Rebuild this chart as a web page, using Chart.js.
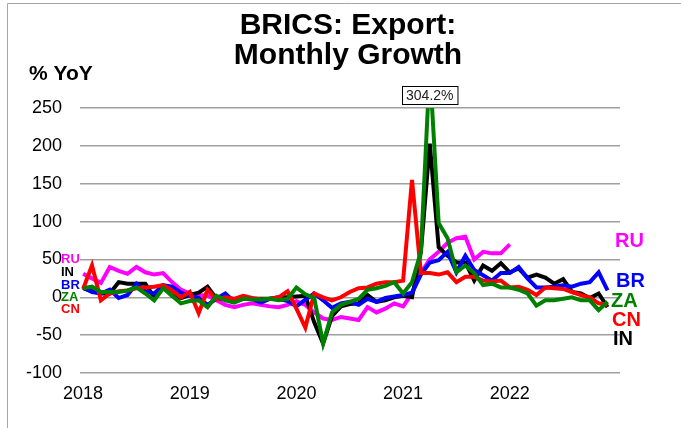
<!DOCTYPE html>
<html>
<head>
<meta charset="utf-8">
<script src="https://cdn.jsdelivr.net/npm/chart.js@4.4.1/dist/chart.umd.min.js"></script>
<style>
html,body{margin:0;padding:0;background:#fff;}
canvas{display:block;}
</style>
</head>
<body>
<canvas id="c" width="681" height="428"></canvas>
<script>
// ---- data (monthly, Jan 2018 .. Dec 2022) ----
const yearTicks = ['2018','2019','2020','2021','2022'];
const yTicks = [-100,-50,0,50,100,150,200,250];

const RU = [31,25,19,40,35,31,40,33,30,32,20,10,
            5,3,2,-4,-10,-13,-10,-8,-10,-12,-13,-10,
            -5,-10,-20,-28,-30,-26,-28,-30,-13,-20,-15,-8,
            -12,5,32,50,60,72,78,80,50,60,58,58,
            70,null,null,null,null,null,null,null,null,null,null,null];
const IN = [12,8,5,5,20,18,18,18,0,14,2,-1,
            3,6,14,-2,-2,-5,-1,-2,-2,-2,0,0,
            1,2,-33,-61,-25,-12,-9,-8,3,-6,-4,0,
            2,0,60,203,66,55,46,46,22,42,35,45,
            33,38,26,30,26,18,24,7,5,-1,5,-13];
const BR = [13,7,5,10,-1,3,18,8,5,16,14,6,
            2,-1,-10,-2,5,-6,-2,-2,-7,-2,-2,-5,
            -12,-3,5,-4,-14,-8,-6,-10,-2,-6,-1,1,
            3,6,30,46,49,60,33,55,36,29,22,32,
            32,40,25,13,13,14,16,14,18,20,33,9];
const ZA = [12,14,7,7,7,9,13,5,-4,12,2,-8,
            -5,-4,-13,2,-4,-7,-2,-3,-3,-2,-4,-2,
            13,4,-1,-61,-20,-10,-6,-2,10,12,15,20,
            5,20,60,304.2,98,78,33,42,32,16,18,13,
            13,10,5,-11,-4,-4,-2,0,-4,-4,-17,-6];
const CN = [11,42,-4,5,8,9,12,13,14,16,9,0,
            7,-21,10,-3,0,-2,2,-1,-3,-2,0,8,
            -15,-40,5,0,-4,0,7,12,13,18,20,20,
            22,155,32,32,30,33,20,27,27,22,21,22,
            13,14,10,3,13,12,11,7,3,0,-8,-10];

const seriesNames = ['ZA','CN','BR','IN','RU'];
const seriesData  = [ZA, CN, BR, IN, RU];
const seriesColors = ['#008000','#ff0000','#0000ff','#000000','#ff00ff'];

const peakIndex = 39;            // Apr 2021 (ZA)
const peakLabel = '304.2%';

const toXY = arr => arr.map((v,i)=>({x:i, y:v}));

const FONT = '"Liberation Sans", Arial, sans-serif';

const overlay = {
  id: 'overlay',
  afterDraw(chart) {
    const ctx = chart.ctx;
    const xs = chart.scales.x;
    ctx.save();
    // frame
    ctx.strokeStyle = '#a6a6a6';
    ctx.lineWidth = 1;
    ctx.beginPath();
    ctx.moveTo(7.5, 428); ctx.lineTo(7.5, 3.5); ctx.lineTo(681, 3.5);
    ctx.stroke();
    // title
    ctx.fillStyle = '#000';
    ctx.textAlign = 'center';
    ctx.textBaseline = 'alphabetic';
    ctx.font = 'bold 30px ' + FONT;
    ctx.fillText('BRICS: Export:', 348, 34);
    ctx.fillText('Monthly Growth', 348, 64);
    // axis unit
    ctx.textAlign = 'left';
    ctx.font = 'bold 21px ' + FONT;
    ctx.fillText('% YoY', 29, 80);
    // annotation box
    const px = xs.getPixelForValue(peakIndex);
    ctx.font = '14px ' + FONT;
    const w = ctx.measureText(peakLabel).width + 8;
    const bx = Math.round(px - w/2) + 0.5, by = 86.5, bh = 18;
    ctx.fillStyle = '#fff';
    ctx.fillRect(bx, by, w, bh);
    ctx.strokeStyle = '#000';
    ctx.strokeRect(bx, by, w, bh);
    ctx.fillStyle = '#222';
    ctx.textAlign = 'center';
    ctx.textBaseline = 'middle';
    ctx.fillText(peakLabel, px, by + bh/2 + 1);
    // left labels
    const leftLab = [['RU','#ff00ff',259],['IN','#000000',272],['BR','#0000ff',285],['ZA','#008000',297],['CN','#ff0000',309]];
    ctx.font = 'bold 13px ' + FONT;
    ctx.textAlign = 'left';
    leftLab.forEach(([t,c,y])=>{ ctx.fillStyle=c; ctx.fillText(t, 61, y); });
    // right labels
    const rightLab = [['RU','#ff00ff',615,241],['BR','#0000ff',616,281],['ZA','#008000',611,301],['CN','#ff0000',612,320],['IN','#000000',613,339]];
    ctx.font = 'bold 20px ' + FONT;
    rightLab.forEach(([t,c,x,y])=>{ ctx.fillStyle=c; ctx.fillText(t, x, y); });
    ctx.restore();
  }
};

new Chart(document.getElementById('c'), {
  type: 'line',
  data: {
    datasets: seriesNames.map((n,i)=>({
      label: n,
      data: toXY(seriesData[i]),
      borderColor: seriesColors[i],
      backgroundColor: seriesColors[i],
      borderWidth: 4,
      pointRadius: 0,
      tension: 0,
      fill: false,
      spanGaps: false
    }))
  },
  options: {
    responsive: false,
    animation: false,
    devicePixelRatio: 1,
    layout: { padding: { left: 0, top: 108, right: 61, bottom: 25 } },
    plugins: { legend: { display: false }, tooltip: { enabled: false }, title: { display: false } },
    scales: {
      x: {
        type: 'linear',
        min: -0.35, max: 60.4,
        grid: { display: false, drawTicks: false },
        border: { display: false },
        afterBuildTicks: s => { s.ticks = yearTicks.map((t,i)=>({value: i*12})); },
        afterFit: s => { s.height = 30; },
        ticks: {
          autoSkip: false, maxRotation: 0, padding: 10,
          color: '#000', font: { size: 18, family: FONT },
          callback: (v, i) => yearTicks[i]
        }
      },
      y: {
        min: -100, max: 250,
        afterBuildTicks: s => { s.ticks = yTicks.map(v=>({value:v})); },
        afterFit: s => { s.width = 80; },
        grid: { color: '#a0a0a0', lineWidth: 1.5, drawTicks: false },
        border: { display: false },
        ticks: { padding: 18, color: '#000', font: { size: 18, family: FONT } }
      }
    }
  },
  plugins: [overlay]
});
</script>
</body>
</html>
